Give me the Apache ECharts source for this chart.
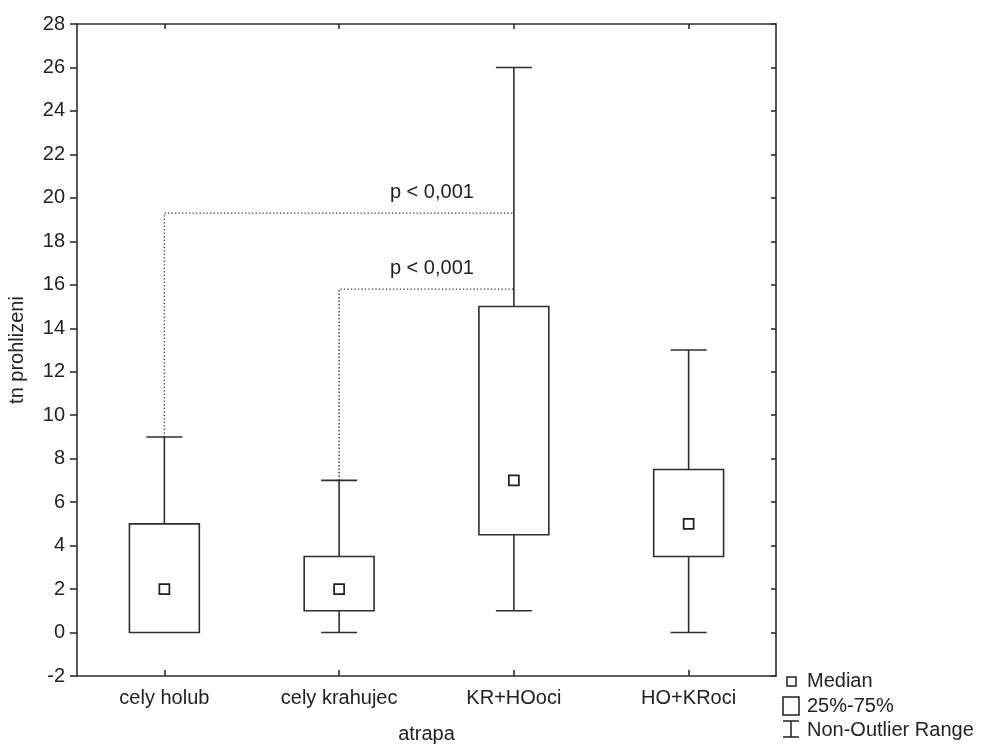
<!DOCTYPE html>
<html>
<head>
<meta charset="utf-8">
<title>tn prohlizeni podle atrapy</title>
<script src="https://cdn.jsdelivr.net/npm/echarts@6/dist/echarts.min.js"></script>
<style>
  html, body { margin: 0; padding: 0; background: #ffffff; }
  #chart { width: 986px; height: 744px; }
</style>
</head>
<body>
<div id="chart"></div>
<script>
// Box plot summary per decoy type (atrapa)
const categories   = ['cely holub', 'cely krahujec', 'KR+HOoci', 'HO+KRoci'];
const whiskerLow   = [0, 0, 1, 0];
const quartile1    = [0, 1, 4.5, 3.5];
const medians      = [2, 2, 7, 5];
const quartile3    = [5, 3.5, 15, 7.5];
const whiskerHigh  = [9, 7, 26, 13];

// Y axis scale
const yMin = -2;
const yMax = 28;
const yStep = 2;

// Significance brackets: from a group's upper whisker to the KR+HOoci whisker
const bracketFrom  = [0, 1];
const bracketTo    = [2, 2];
const bracketLevel = [19.3, 15.8];
const bracketText  = ['p < 0,001', 'p < 0,001'];

// Legend entries
const legendItems = ['Median', '25%-75%', 'Non-Outlier Range'];

const FONT = "'Liberation Sans', Arial, Helvetica, sans-serif";
const INK = '#222222';
const LINE = '#2e2e2e';

const boxData = categories.map((c, i) => [i, whiskerLow[i], quartile1[i], medians[i], quartile3[i], whiskerHigh[i]]);
const bracketData = bracketFrom.map((f, i) => [f, bracketTo[i], whiskerHigh[f], bracketLevel[i], i]);

function renderBox(params, api) {
  const i = api.value(0);
  const band = api.size([1, 0])[0];
  const boxW = band * 0.4;
  const capW = band * 0.206;
  const pLow = api.coord([i, api.value(1)]);
  const pQ1 = api.coord([i, api.value(2)]);
  const pMed = api.coord([i, api.value(3)]);
  const pQ3 = api.coord([i, api.value(4)]);
  const pHigh = api.coord([i, api.value(5)]);
  const x = pMed[0];
  const st = { stroke: LINE, lineWidth: 1.6, fill: null };
  const children = [];
  // upper whisker and cap
  if (pHigh[1] < pQ3[1]) {
    children.push({ type: 'line', shape: { x1: x, y1: pQ3[1], x2: x, y2: pHigh[1] }, style: st });
  }
  children.push({ type: 'line', shape: { x1: x - capW / 2, y1: pHigh[1], x2: x + capW / 2, y2: pHigh[1] }, style: st });
  // lower whisker and cap
  if (pLow[1] > pQ1[1]) {
    children.push({ type: 'line', shape: { x1: x, y1: pQ1[1], x2: x, y2: pLow[1] }, style: st });
    children.push({ type: 'line', shape: { x1: x - capW / 2, y1: pLow[1], x2: x + capW / 2, y2: pLow[1] }, style: st });
  }
  // interquartile box
  children.push({ type: 'rect', shape: { x: x - boxW / 2, y: pQ3[1], width: boxW, height: pQ1[1] - pQ3[1] },
    style: { stroke: LINE, lineWidth: 1.6, fill: '#ffffff' } });
  // median marker
  const m = 10;
  children.push({ type: 'rect', shape: { x: x - m / 2, y: pMed[1] - m / 2, width: m, height: m },
    style: { stroke: '#1e1e1e', lineWidth: 1.7, fill: '#ffffff' } });
  return { type: 'group', children: children };
}

function renderBracket(params, api) {
  const from = api.value(0);
  const to = api.value(1);
  const start = api.coord([from, api.value(2)]);
  const corner = api.coord([from, api.value(3)]);
  const end = api.coord([to, api.value(3)]);
  const k = api.value(4);
  const dot = { stroke: '#3a3a3a', lineWidth: 1.4, lineDash: [1.3, 2.2], fill: null };
  return {
    type: 'group',
    children: [
      { type: 'polyline', shape: { points: [start, corner, end] }, style: dot },
      { type: 'text', x: end[0] - 40, y: end[1] - 21,
        style: { text: bracketText[k], font: '20px ' + FONT, fill: INK, align: 'right', verticalAlign: 'middle' } }
    ]
  };
}

const chart = echarts.init(document.getElementById('chart'), null, { renderer: 'canvas' });

const legendX = 783;
const legendTextX = 807;

chart.setOption({
  animation: false,
  backgroundColor: '#ffffff',
  textStyle: { fontFamily: FONT },
  grid: { left: 77, right: 210, top: 24, bottom: 68, containLabel: false, outerBoundsMode: 'none' },
  xAxis: [
    {
      type: 'category', data: categories, position: 'bottom', boundaryGap: true,
      name: 'atrapa', nameLocation: 'middle', nameGap: 48,
      nameTextStyle: { fontSize: 20, color: INK, fontFamily: FONT },
      axisLine: { show: true, onZero: false, lineStyle: { color: LINE, width: 1.6 } },
      axisTick: { show: true, inside: true, length: 6, alignWithLabel: true, lineStyle: { color: LINE, width: 1.6 } },
      axisLabel: { fontSize: 20, color: INK, margin: 12, fontFamily: FONT },
      splitLine: { show: false }
    },
    {
      type: 'category', data: categories, position: 'top', boundaryGap: true,
      axisLine: { show: true, onZero: false, lineStyle: { color: LINE, width: 1.6 } },
      axisTick: { show: true, inside: true, length: 5, alignWithLabel: true, lineStyle: { color: LINE, width: 1.6 } },
      axisLabel: { show: false },
      splitLine: { show: false }
    }
  ],
  yAxis: [
    {
      type: 'value', min: yMin, max: yMax, interval: yStep, position: 'left',
      name: 'tn prohlizeni', nameLocation: 'middle', nameGap: 50, nameRotate: 90,
      nameTextStyle: { fontSize: 20, color: INK, fontFamily: FONT },
      axisLine: { show: true, onZero: false, lineStyle: { color: LINE, width: 1.6 } },
      axisTick: { show: true, inside: false, length: 7, lineStyle: { color: LINE, width: 1.6 } },
      axisLabel: { fontSize: 20, color: INK, margin: 12, fontFamily: FONT },
      splitLine: { show: false }
    },
    {
      type: 'value', min: yMin, max: yMax, interval: yStep, position: 'right',
      axisLine: { show: true, onZero: false, lineStyle: { color: LINE, width: 1.6 } },
      axisTick: { show: true, inside: true, length: 5, lineStyle: { color: LINE, width: 1.6 } },
      axisLabel: { show: false },
      splitLine: { show: false }
    }
  ],
  series: [
    {
      type: 'custom', name: 'brackets', xAxisIndex: 0, yAxisIndex: 0,
      data: bracketData, renderItem: renderBracket, z: 2, silent: true
    },
    {
      type: 'custom', name: 'tn prohlizeni', xAxisIndex: 0, yAxisIndex: 0,
      data: boxData, renderItem: renderBox, z: 3, silent: true
    }
  ],
  graphic: [
    // legend: median marker
    { type: 'rect', shape: { x: 787, y: 677, width: 9, height: 9 },
      style: { stroke: '#1e1e1e', lineWidth: 1.5, fill: '#fff' } },
    { type: 'text', x: legendTextX, y: 681,
      style: { text: legendItems[0], font: '20px ' + FONT, fill: INK, verticalAlign: 'middle' } },
    // legend: interquartile box
    { type: 'rect', shape: { x: legendX, y: 697, width: 16, height: 18 },
      style: { stroke: '#1e1e1e', lineWidth: 1.5, fill: '#fff' } },
    { type: 'text', x: legendTextX, y: 706,
      style: { text: legendItems[1], font: '20px ' + FONT, fill: INK, verticalAlign: 'middle' } },
    // legend: whisker range
    { type: 'polyline', shape: { points: [[legendX, 721], [legendX + 16, 721]] }, style: { stroke: '#1e1e1e', lineWidth: 1.5 } },
    { type: 'polyline', shape: { points: [[legendX + 8, 721], [legendX + 8, 737]] }, style: { stroke: '#1e1e1e', lineWidth: 1.5 } },
    { type: 'polyline', shape: { points: [[legendX, 737], [legendX + 16, 737]] }, style: { stroke: '#1e1e1e', lineWidth: 1.5 } },
    { type: 'text', x: legendTextX, y: 730,
      style: { text: legendItems[2], font: '20px ' + FONT, fill: INK, verticalAlign: 'middle' } }
  ]
});
</script>
</body>
</html>
